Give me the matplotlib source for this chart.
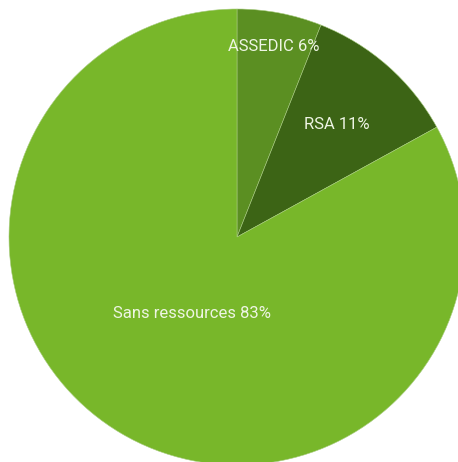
import numpy as np
import matplotlib.pyplot as plt

labels = ["ASSEDIC 6%", "RSA 11%", "Sans ressources 83%"]
values = [6, 11, 83]
colors = ["#5b8f22", "#3c6415", "#78b72a"]
label_dist = [0.85, 0.66, 0.39]

fig = plt.figure(figsize=(4.58, 4.62), dpi=100)
ax = fig.add_axes([0, 0, 1, 1])
ax.set_aspect("equal")

cx, cy, r = 237, 225, 228
wedges, _ = ax.pie(values, colors=colors, startangle=90, counterclock=False,
                   center=(cx, cy), radius=r, frame=True,
                   wedgeprops=dict(edgecolor="#a8cc80", linewidth=0.4))
ax.set_xlim(0, 458)
ax.set_ylim(0, 462)
ax.axis("off")

for w, lab, d in zip(wedges, labels, label_dist):
    ang = np.deg2rad((w.theta1 + w.theta2) / 2)
    ax.text(cx + d * r * np.cos(ang), cy + d * r * np.sin(ang), lab,
            ha="center", va="center", color="#eef5e4", fontsize=12,
            family="Roboto")

fig.savefig("out.png", dpi=100)
